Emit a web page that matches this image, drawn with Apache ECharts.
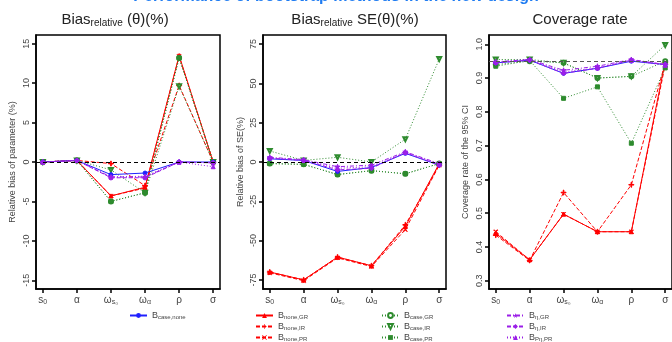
<!DOCTYPE html>
<html><head><meta charset="utf-8">
<script src="https://cdn.jsdelivr.net/npm/echarts@6/dist/echarts.min.js"></script>
<style>html,body{margin:0;padding:0;background:#fff}#c{width:672px;height:342px}</style>
</head><body><div id="c"></div>
<script>
// categories (parameters)
const categories = ['s0', 'alpha', 'omega_s0', 'omega_alpha', 'rho', 'sigma'];
const xTickLabels = ['{m|s}{s|0}', '{m|α}', '{m|ω}{s|s₀}', '{m|ω}{s|α}', '{m|ρ}', '{m|σ}'];

// series names
const seriesNames = ['B_none,GR','B_none,IR','B_none,PR','B_case,GR','B_case,IR','B_case,PR','B_case,none','B_eta,GR','B_eta,IR','B_Peta,PR'];

// Panel 1: relative bias of parameter (%)
const biasNoneGR = [0, 0.2, -4.3, -3.2, 13.5, 0];
const biasNoneIR = [0, 0.2, -0.2, -3.0, 9.7, 0];
const biasNonePR = [0, 0.2, -4.3, -3.3, 13.4, 0];
const biasCaseGR = [0, 0.2, -5.0, -3.9, 13.2, 0];
const biasCaseIR = [0, 0.2, -1.0, -3.9, 9.6, 0];
const biasCasePR = [0, 0.2, -5.0, -3.9, 13.2, 0];
const biasCaseNone = [0, 0.2, -1.6, -1.4, 0, 0];
const biasEtaGR = [0, 0.2, -1.9, -1.9, 0, -0.1];
const biasEtaIR = [0, 0.2, -2.0, -2.0, 0, -0.1];
const biasEtaPR = [0, 0.2, -1.9, -1.8, 0, -0.6];

// Panel 2: relative bias of SE (%)
const seNoneGR = [-70, -75, -60.5, -66, -41, -1];
const seNoneIR = [-70, -75, -60.5, -66, -40, -2];
const seNonePR = [-70.5, -75.5, -61, -66.5, -43, -2];
const seCaseGR = [-1, -1.5, -8, -5.5, -7.5, -1];
const seCaseIR = [7, 1, 3, 0, 14.5, 65.5];
const seCasePR = [-1, -1.5, -8, -5.5, -7.5, -1];
const seCaseNone = [2, 1, -6, -3.5, 5.5, -2];
const seEtaGR = [3, 1.5, -3, -2, 6.5, -1];
const seEtaIR = [2.5, 1, -5, -4, 6, -2];
const seEtaPR = [2.5, 1, -4, -3, 6, -1.5];

// Panel 3: coverage rate of the 95% CI
const covNoneGR = [0.44, 0.362, 0.497, 0.445, 0.445, 0.95];
const covNoneIR = [0.435, 0.36, 0.561, 0.445, 0.584, 0.945];
const covNonePR = [0.445, 0.362, 0.497, 0.445, 0.445, 0.94];
const covCaseGR = [0.94, 0.95, 0.945, 0.90, 0.905, 0.95];
const covCaseIR = [0.955, 0.955, 0.945, 0.90, 0.905, 0.998];
const covCasePR = [0.935, 0.952, 0.84, 0.874, 0.707, 0.93];
const covCaseNone = [0.945, 0.953, 0.914, 0.929, 0.95, 0.94];
const covEtaGR = [0.948, 0.955, 0.923, 0.935, 0.955, 0.94];
const covEtaIR = [0.945, 0.953, 0.914, 0.929, 0.953, 0.94];
const covEtaPR = [0.948, 0.955, 0.918, 0.93, 0.952, 0.938];

const panelData = [
  [biasNoneGR, biasNoneIR, biasNonePR, biasCaseGR, biasCaseIR, biasCasePR, biasCaseNone, biasEtaGR, biasEtaIR, biasEtaPR],
  [seNoneGR, seNoneIR, seNonePR, seCaseGR, seCaseIR, seCasePR, seCaseNone, seEtaGR, seEtaIR, seEtaPR],
  [covNoneGR, covNoneIR, covNonePR, covCaseGR, covCaseIR, covCasePR, covCaseNone, covEtaGR, covEtaIR, covEtaPR]
];
const refValues = [0, 0, 0.95];
const yTicks = [[-15, -10, -5, 0, 5, 10, 15], [-75, -50, -25, 0, 25, 50, 75], [0.3, 0.4, 0.5, 0.6, 0.7, 0.8, 0.9, 1.0]];

const RED = '#ff0000', GREEN = '#2e8b2e', BLUE = '#2020ff', PURPLE = '#9b1fe8';
const PLUS = 'path://M4.4 0H5.6V4.4H10V5.6H5.6V10H4.4V5.6H0V4.4H4.4Z';
const CROSS = 'path://M1 0L5 4L9 0L10 1L6 5L10 9L9 10L5 6L1 10L0 9L4 5L0 1Z';
const STAR = 'path://M5 0L6.2 3.6H10L7 5.9L8.1 9.5L5 7.3L1.9 9.5L3 5.9L0 3.6H3.8Z';
const styles = [
  {color: RED, symbol: 'triangle', type: 'solid', size: 4},
  {color: RED, symbol: PLUS, type: [4, 2], size: 5},
  {color: RED, symbol: CROSS, type: [4, 2], size: 4},
  {color: GREEN, symbol: 'emptyCircle', type: [1, 2], size: 4},
  {color: GREEN, symbol: 'emptyTriangle', type: [1, 2], size: 4, rotate: 180},
  {color: GREEN, symbol: 'rect', type: [1, 2], size: 4},
  {color: BLUE, symbol: 'circle', type: 'solid', size: 4},
  {color: PURPLE, symbol: STAR, type: [4, 2, 1, 2], size: 5},
  {color: PURPLE, symbol: 'diamond', type: [4, 2], size: 5},
  {color: PURPLE, symbol: 'triangle', type: [1, 2], size: 4}
];

const grids = [
  {left: 36, top: 35, width: 184, height: 254},
  {left: 263, top: 35, width: 183, height: 254},
  {left: 489, top: 35, width: 184, height: 254}
];
const yRanges = [[-16.1, 16.1], [-80.8, 80.8], [0.2754, 1.0275]];
const yNames = ['Relative bias of parameter (%)', 'Relative bias of SE(%)', 'Coverage rate of the 95% CI'];
const tickFont = 'Liberation Sans';

const option = {
  animation: false,
  backgroundColor: '#fff',
  grid: grids.map(g => Object.assign({show: true, borderColor: '#000', borderWidth: 1.5, containLabel: false}, g)),
  xAxis: grids.map((g, i) => ({
    type: 'value', gridIndex: i, min: -0.2, max: 5.2,
    splitLine: {show: false},
    axisLine: {show: true, onZero: false, lineStyle: {color: '#000', width: 1.5}},
    axisTick: {show: true, customValues: [0, 1, 2, 3, 4, 5], length: 4, lineStyle: {color: '#000', width: 1.5}},
    axisLabel: {
      customValues: [0, 1, 2, 3, 4, 5], margin: 6, color: '#444',
      formatter: v => xTickLabels[Math.round(v)],
      rich: {m: {fontSize: 10, fontFamily: tickFont, color: '#444'}, s: {fontSize: 7, fontFamily: tickFont, color: '#444', padding: [4, 0, 0, 0]}}
    }
  })),
  yAxis: grids.map((g, i) => ({
    type: 'value', gridIndex: i, min: yRanges[i][0], max: yRanges[i][1],
    splitLine: {show: false},
    axisLine: {show: true, onZero: false, lineStyle: {color: '#000', width: 1.5}},
    axisTick: {show: true, customValues: yTicks[i], length: 4, lineStyle: {color: '#000', width: 1.5}},
    axisLabel: {customValues: yTicks[i], rotate: 90, margin: 5, fontSize: 9, fontFamily: tickFont, color: '#444',
      formatter: v => (i === 2 ? v.toFixed(1) : String(v))},
    name: yNames[i], nameLocation: 'middle', nameRotate: 90, nameGap: [19, 18, 19][i],
    nameTextStyle: {fontSize: 9, fontFamily: tickFont, color: '#444'}
  })),
  legend: [
    {data: ['B_case,none'], left: 129, top: 311},
    {data: ['B_none,GR', 'B_none,IR', 'B_none,PR'], left: 255, top: 311},
    {data: ['B_case,GR', 'B_case,IR', 'B_case,PR'], left: 381, top: 311},
    {data: ['B_eta,GR', 'B_eta,IR', 'B_Peta,PR'], left: 506, top: 311}
  ].map(l => Object.assign({
    orient: 'vertical', itemWidth: 17, itemHeight: 6, itemGap: 2, padding: 0, selectedMode: false,
    formatter: n => {
      const parts = n.split('_');
      let sub = parts[1].replace('Peta', 'Pη').replace('eta', 'η');
      return '{m|B}{s|' + sub + '}';
    },
    textStyle: {rich: {m: {fontSize: 9, fontFamily: tickFont, color: '#444'}, s: {fontSize: 6, fontFamily: tickFont, color: '#444', padding: [3, 0, 0, 0]}}}
  }, l)),
  graphic: [
    {type: 'text', left: 'center', top: -11, style: {text: 'Performance of bootstrap methods in the new design', fontSize: 16, fontWeight: 'bold', fontFamily: 'Liberation Sans', fill: '#1f7cf2'}},
    {type: 'text', x: 115, y: 20, style: {text: '{a|Bias}{s|relative}{a| (θ)(%)}', align: 'center', verticalAlign: 'middle',
      rich: {a: {fontSize: 15, fontFamily: 'Liberation Sans', fill: '#222'}, s: {fontSize: 10, fontFamily: 'Liberation Sans', fill: '#222', padding: [6, 0, 0, 0]}}}},
    {type: 'text', x: 355, y: 20, style: {text: '{a|Bias}{s|relative}{a| SE(θ)(%)}', align: 'center', verticalAlign: 'middle',
      rich: {a: {fontSize: 15, fontFamily: 'Liberation Sans', fill: '#222'}, s: {fontSize: 10, fontFamily: 'Liberation Sans', fill: '#222', padding: [6, 0, 0, 0]}}}},
    {type: 'text', x: 580, y: 20, style: {text: 'Coverage rate', align: 'center', verticalAlign: 'middle', fontSize: 15, fontFamily: 'Liberation Sans', fill: '#222'}}
  ],
  series: []
};

for (let p = 0; p < 3; p++) {
  seriesNames.forEach((name, k) => {
    const st = styles[k];
    option.series.push({
      type: 'line', name: name, xAxisIndex: p, yAxisIndex: p,
      data: panelData[p][k].map((v, j) => [j, v]),
      symbol: st.symbol, symbolSize: st.size, symbolRotate: st.rotate || 0,
      lineStyle: {color: st.color, width: 1, type: st.type},
      itemStyle: {color: st.color, borderColor: st.color},
      z: 3
    });
  });
  option.series.push({
    type: 'line', name: 'ref' + p, xAxisIndex: p, yAxisIndex: p, data: [], silent: true,
    markLine: {silent: true, symbol: 'none', label: {show: false}, animation: false,
      lineStyle: {color: p === 2 ? '#555' : '#000', type: [4, 3], width: 1.2}, data: [{yAxis: refValues[p]}]}, z: 2
  });
}

const chart = echarts.init(document.getElementById('c'), null, {renderer: 'canvas'});
chart.setOption(option);
</script></body></html>
